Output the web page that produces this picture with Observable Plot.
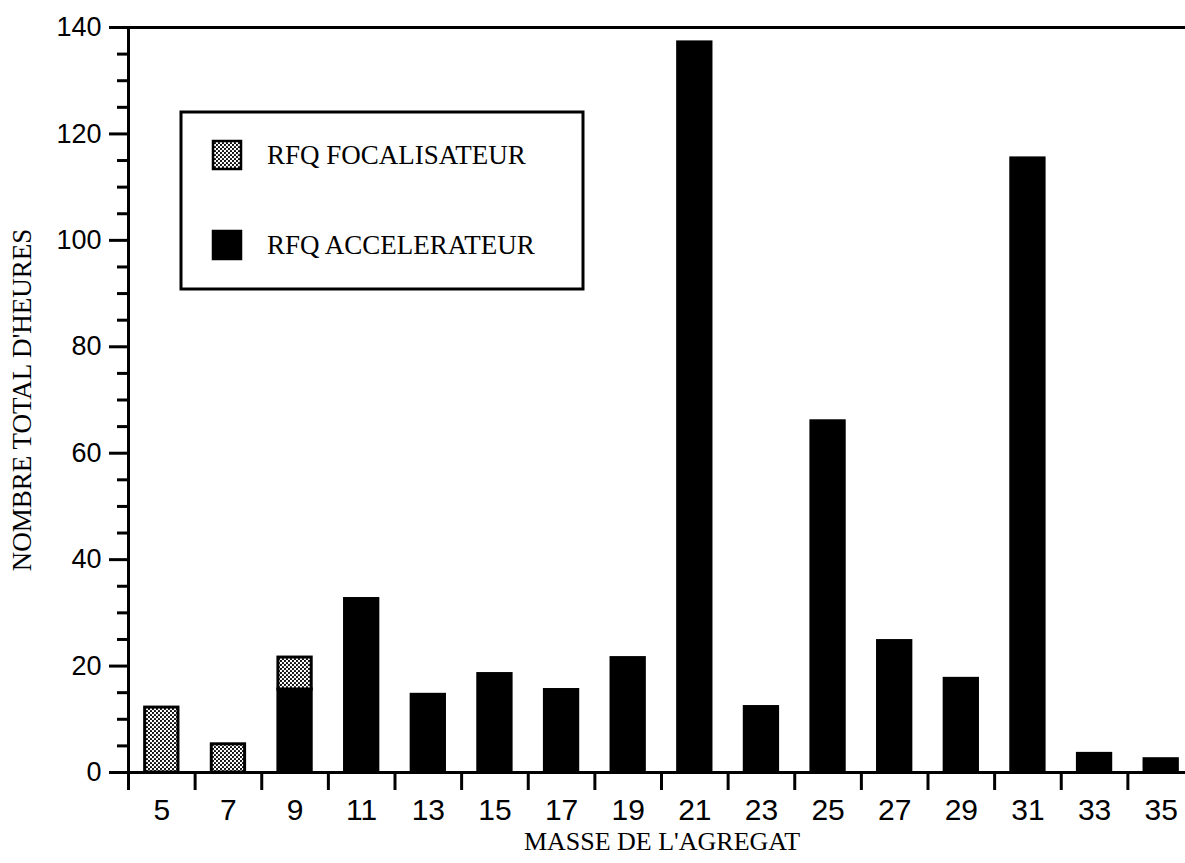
<!DOCTYPE html>
<html><head><meta charset="utf-8">
<script src="https://cdn.jsdelivr.net/npm/d3@7"></script>
<script src="https://cdn.jsdelivr.net/npm/@observablehq/plot@0.6"></script>
<style>html,body{margin:0;padding:0;background:#fff;overflow:hidden}</style>
</head><body><div id="chart"></div>
<script>
// ---- data ----
const masses = [5, 7, 9, 11, 13, 15, 17, 19, 21, 23, 25, 27, 29, 31, 33, 35];
const focalisateur = [12.2, 5.3, 6.0, 0, 0, 0, 0, 0, 0, 0, 0, 0, 0, 0, 0, 0];
const accelerateur = [0, 0, 15.6, 32.6, 14.6, 18.5, 15.5, 21.5, 137.2, 12.3, 66.0, 24.7, 17.6, 115.4, 3.5, 2.5];
const seriesNames = ["RFQ FOCALISATEUR", "RFQ ACCELERATEUR"];
const yTicks = [0, 20, 40, 60, 80, 100, 120, 140];
const yMinorTicks = [5, 10, 15, 25, 30, 35, 45, 50, 55, 65, 70, 75, 85, 90, 95, 105, 110, 115, 125, 130, 135];
const xLabel = "MASSE DE L'AGREGAT";
const yLabel = "NOMBRE TOTAL D'HEURES";

// ---- derived tables ----
const accelRows = masses.map((m, i) => ({mass: m, y1: 0, y2: accelerateur[i]})).filter(d => d.y2 > 0);
const focalRows = masses.map((m, i) => ({mass: m, y1: accelerateur[i], y2: accelerateur[i] + focalisateur[i]})).filter(d => d.y2 > d.y1);
const xBoundaries = masses.map(m => m - 1);
const xDomain = [masses[0] - 1, masses[masses.length - 1] + 1];
const half = 0.5;

const serif = "'Liberation Serif', 'Times New Roman', serif";
const sans = "'Liberation Sans', Arial, sans-serif";

function legendMark() {
  const g = d3.create("svg:g");
  const defs = g.append("defs");
  const pat = defs.append("pattern").attr("id", "dots").attr("width", 4).attr("height", 4).attr("patternUnits", "userSpaceOnUse");
  pat.append("rect").attr("width", 4).attr("height", 4).attr("fill", "#fff");
  pat.append("circle").attr("cx", 1).attr("cy", 1).attr("r", 1.1).attr("fill", "#000");
  pat.append("circle").attr("cx", 3).attr("cy", 3).attr("r", 1.1).attr("fill", "#000");
  g.append("rect").attr("x", 181).attr("y", 112).attr("width", 402).attr("height", 177)
    .attr("fill", "#fff").attr("stroke", "#000").attr("stroke-width", 3);
  const fills = ["url(#dots)", "#000"];
  seriesNames.forEach((name, i) => {
    const cy = 155 + i * 90;
    g.append("rect").attr("x", 213).attr("y", cy - 14).attr("width", 28).attr("height", 28)
      .attr("fill", fills[i]).attr("stroke", "#000").attr("stroke-width", 2.5);
    g.append("text").attr("x", 267).attr("y", cy).attr("dy", "0.34em")
      .attr("text-anchor", "start")
      .attr("font-family", serif).attr("font-size", 27).attr("fill", "#000").text(name);
  });
  return g.node();
}

const plot = Plot.plot({
  width: 1185,
  height: 863,
  marginTop: 27,
  marginBottom: 91,
  marginLeft: 128,
  marginRight: 0,
  x: {domain: xDomain, range: [128, 1194]},
  y: {domain: [0, 140], range: [772, 27]},
  style: {background: "#fff", color: "#000", overflow: "hidden"},
  marks: [
    legendMark,
    Plot.rect(accelRows, {x1: d => d.mass - half, x2: d => d.mass + half, y1: "y1", y2: "y2", fill: "#000", stroke: "#000", strokeWidth: 3}),
    Plot.rect(focalRows, {x1: d => d.mass - half, x2: d => d.mass + half, y1: "y1", y2: "y2", fill: "url(#dots)", stroke: "#000", strokeWidth: 3}),
    Plot.ruleY([0, 140], {stroke: "#000", strokeWidth: 3}),
    Plot.ruleX([xDomain[0]], {stroke: "#000", strokeWidth: 3}),
    Plot.axisY({ticks: yMinorTicks, tickSize: 11, tickFormat: () => "", label: null, strokeWidth: 3}),
    Plot.axisY({ticks: yTicks, tickSize: 19, tickPadding: 8, label: null, strokeWidth: 3, fontSize: 27, fontFamily: sans}),
    Plot.axisX({ticks: xBoundaries, tickSize: 18, tickFormat: () => "", label: null, strokeWidth: 3}),
    Plot.axisX({ticks: masses, tickSize: 0, tickPadding: 26, label: null, fontSize: 30, fontFamily: sans}),
    Plot.text([xLabel], {text: d => d, frameAnchor: "bottom", dx: 5, dy: 69, fontSize: 26, fontFamily: serif, textAnchor: "middle", lineAnchor: "middle"}),
    Plot.text([yLabel], {text: d => d, frameAnchor: "left", dx: -106, rotate: -90, fontSize: 27, fontFamily: serif, textAnchor: "middle", lineAnchor: "middle"})
  ]
});
document.getElementById("chart").appendChild(plot);
</script>
</body></html>
